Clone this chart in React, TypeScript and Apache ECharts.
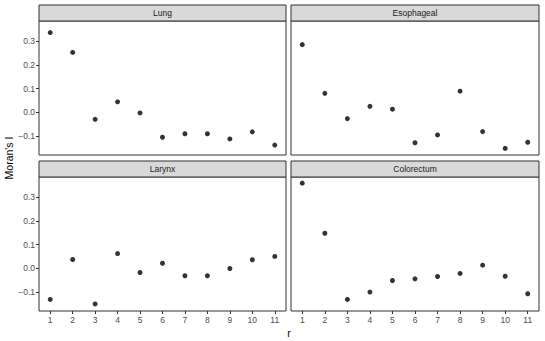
import React, { useEffect, useRef } from "react";
import * as echarts from "echarts";

const lags = [1, 2, 3, 4, 5, 6, 7, 8, 9, 10, 11];
const panelNames = ["Lung", "Esophageal", "Larynx", "Colorectum"];
const lung = [0.337, 0.253, -0.03, 0.044, -0.003, -0.106, -0.091, -0.091, -0.113, -0.083, -0.139];
const esophageal = [0.286, 0.08, -0.027, 0.025, 0.013, -0.129, -0.096, 0.089, -0.082, -0.153, -0.127];
const larynx = [-0.132, 0.037, -0.151, 0.062, -0.018, 0.021, -0.032, -0.032, -0.001, 0.036, 0.05];
const colorectum = [0.36, 0.148, -0.132, -0.101, -0.052, -0.045, -0.035, -0.022, 0.013, -0.034, -0.108];
const yTicks = [-0.1, 0.0, 0.1, 0.2, 0.3];
const xTitle = "r";
const yTitle = "Moran's I";

const FONT = "Liberation Sans, Arial, sans-serif";

export default function App() {
  const ref = useRef<HTMLDivElement>(null);
  useEffect(() => {
    if (!ref.current) return;
    const chart = echarts.init(ref.current, undefined, { renderer: "svg" });
    const seriesData = [lung, esophageal, larynx, colorectum];
    const lefts = [39, 291];
    const width = [247, 248];
    const tops = [21, 177];
    const h = 134;
    const stripH = 16;
    const grids: any[] = [];
    const xAxes: any[] = [];
    const yAxes: any[] = [];
    const series: any[] = [];
    const graphics: any[] = [];
    for (let i = 0; i < 4; i++) {
      const col = i % 2;
      const row = Math.floor(i / 2);
      grids.push({
        left: lefts[col],
        top: tops[row],
        width: width[col],
        height: h,
        show: true,
        borderColor: "#333333",
        borderWidth: 1,
        backgroundColor: "#ffffff",
      });
      xAxes.push({
        type: "value",
        gridIndex: i,
        position: "bottom",
        min: 0.5,
        max: 11.5,
        axisLine: { show: false, onZero: false },
        splitLine: { show: false },
        axisTick: {
          show: row === 1,
          length: 3,
          lineStyle: { color: "#333333", width: 1 },
          customValues: lags,
        },
        axisLabel: {
          show: row === 1,
          customValues: lags,
          color: "#4d4d4d",
          fontSize: 8.5,
          fontFamily: FONT,
          margin: 4,
          formatter: (v: number) => String(v),
        },
      });
      yAxes.push({
        type: "value",
        gridIndex: i,
        position: "left",
        min: -0.181,
        max: 0.386,
        axisLine: { show: false, onZero: false },
        splitLine: { show: false },
        axisTick: {
          show: col === 0,
          length: 3,
          lineStyle: { color: "#333333", width: 1 },
          customValues: yTicks,
        },
        axisLabel: {
          show: col === 0,
          customValues: yTicks,
          color: "#4d4d4d",
          fontSize: 8.5,
          fontFamily: FONT,
          margin: 4,
          formatter: (v: number) => v.toFixed(1).replace("-", "\u2212"),
        },
      });
      series.push({
        type: "scatter",
        xAxisIndex: i,
        yAxisIndex: i,
        symbol: "circle",
        symbolSize: 5,
        itemStyle: { color: "#000000" },
        data: lags.map((x, j) => [x, seriesData[i][j]]),
      });
      graphics.push({
        type: "rect",
        shape: { x: lefts[col], y: tops[row] - stripH, width: width[col], height: stripH },
        style: { fill: "#d9d9d9", stroke: "#333333", lineWidth: 1 },
        z: 10,
      });
      graphics.push({
        type: "text",
        x: lefts[col] + width[col] / 2,
        y: tops[row] - stripH / 2,
        style: {
          text: panelNames[i],
          fill: "#1a1a1a",
          fontSize: 8.5,
          fontFamily: FONT,
          align: "center",
          verticalAlign: "middle",
        },
        z: 11,
      });
    }
    graphics.push({
      type: "text",
      x: 289,
      y: 333,
      style: { text: xTitle, fill: "#000", fontSize: 10.5, fontFamily: FONT, align: "center", verticalAlign: "middle" },
    });
    graphics.push({
      type: "text",
      x: 9,
      y: 158,
      rotation: Math.PI / 2,
      style: { text: yTitle, fill: "#000", fontSize: 10.5, fontFamily: FONT, align: "center", verticalAlign: "middle" },
    });
    chart.setOption({
      animation: false,
      backgroundColor: "#ffffff",
      grid: grids,
      xAxis: xAxes,
      yAxis: yAxes,
      series,
      graphic: graphics,
    });
    return () => chart.dispose();
  }, []);
  return (
    <div
      ref={ref}
      style={{ position: "fixed", left: 0, top: 0, width: 545, height: 341 }}
    />
  );
}
